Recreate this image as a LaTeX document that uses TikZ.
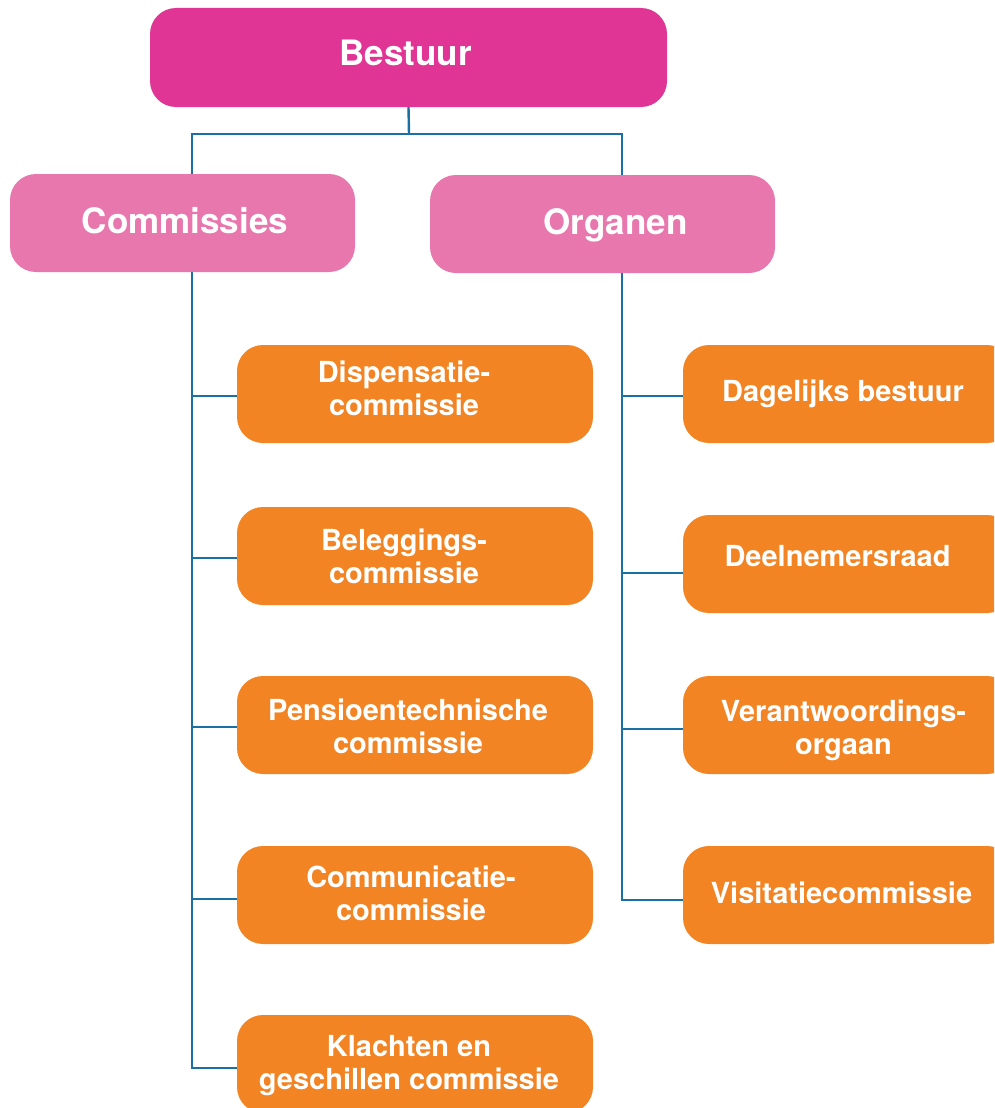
\documentclass[tikz,border=0pt]{standalone}
\usepackage{fontspec}
\setmainfont{TeX Gyre Heros}
\definecolor{cMagenta}{HTML}{E03594}
\definecolor{cPink}{HTML}{E877AD}
\definecolor{cOrange}{HTML}{F28423}
\definecolor{cBlue}{HTML}{1A6FA3}
\tikzset{
  box/.style={rectangle, rounded corners=26pt, draw=none, inner sep=0pt},
  topbox/.style={box, fill=cMagenta, minimum width=517pt, minimum height=99pt},
  midbox/.style={box, fill=cPink, minimum width=345pt, minimum height=98pt},
  lbox/.style={box, fill=cOrange, minimum height=98pt, minimum width=356pt},
  rbox/.style={box, fill=cOrange, minimum height=98pt, minimum width=330pt},
  bigtxt/.style={text=white, inner sep=0pt, anchor=base, align=center,
    font=\bfseries\fontsize{35}{40}\selectfont},
  txt/.style={text=white, inner sep=0pt, anchor=base, align=center,
    font=\bfseries\fontsize{29}{33}\selectfont},
  conn/.style={draw=cBlue, line width=2.4pt}
}
\begin{document}
\begin{tikzpicture}[x=1pt,y=-1pt]
\useasboundingbox (0,0) rectangle (994,1108);
\clip (0,0) rectangle (994,1108);
\fill[white] (0,0) rectangle (994,1108);

% boxes
\node[topbox] (bestuur) at (408.5,57.5) {};
\node[midbox] (comm) at (182.5,223) {};
\node[midbox] (org) at (602.5,224) {};

\node[lbox] (k1) at (415,394) {};
\node[lbox] (k2) at (415,556) {};
\node[lbox] (k3) at (415,725) {};
\node[lbox] (k4) at (415,895) {};
\node[lbox] (k5) at (415,1064) {};

\node[rbox] (o1) at (848,394) {};
\node[rbox] (o2) at (848,564) {};
\node[rbox] (o3) at (848,725) {};
\node[rbox] (o4) at (848,895) {};

% texts (multi-line nodes: base = baseline of last line)
\node[bigtxt] (bestuurT) at (405.5,66) {Bestuur};
\node[bigtxt] (commT) at (185,233) {Commissies};
\node[bigtxt] (orgT) at (615.5,234) {Organen};

\node[txt] (k1T) at (404,415) {Dispensatie-\\commissie};
\node[txt] (k2T) at (404,583) {Beleggings-\\commissie};
\node[txt] (k3T) at (408,753) {Pensioentechnische\\commissie};
\node[txt] (k4T) at (411,920) {Communicatie-\\commissie};
\node[txt] (k5T) at (409,1089) {Klachten en\\geschillen commissie};

\node[txt] (o1T) at (843,401) {Dagelijks bestuur};
\node[txt] (o2T) at (837.5,566) {Deelnemersraad};
\node[txt] (o3T) at (843.5,754) {Verantwoordings-\\orgaan};
\node[txt] (o4T) at (841.5,903) {Visitatiecommissie};

% top connectors
\coordinate (j) at (409,134);
\coordinate (cs) at ([xshift=9.5pt]comm.south);
\coordinate (os) at ([xshift=19.5pt]org.south);
\draw[conn] (bestuur.south) -- (j);
\draw[conn] ([xshift=9.5pt]comm.north) |- (j) -| ([xshift=19.5pt]org.north);

% left spine and branches
\draw[conn] (cs) |- ([yshift=-4pt]k5.west);
\draw[conn] ([yshift=-2pt]k1.west) -- ([yshift=-2pt]k1.west -| cs);
\draw[conn] ([yshift=-2pt]k2.west) -- ([yshift=-2pt]k2.west -| cs);
\draw[conn] ([yshift=-2pt]k3.west) -- ([yshift=-2pt]k3.west -| cs);
\draw[conn] ([yshift=-4pt]k4.west) -- ([yshift=-4pt]k4.west -| cs);

% right spine and branches
\draw[conn] (os) |- ([yshift=-5pt]o4.west);
\draw[conn] ([yshift=-2pt]o1.west) -- ([yshift=-2pt]o1.west -| os);
\draw[conn] ([yshift=-9pt]o2.west) -- ([yshift=-9pt]o2.west -| os);
\draw[conn] ([yshift=-4pt]o3.west) -- ([yshift=-4pt]o3.west -| os);
\end{tikzpicture}
\end{document}
